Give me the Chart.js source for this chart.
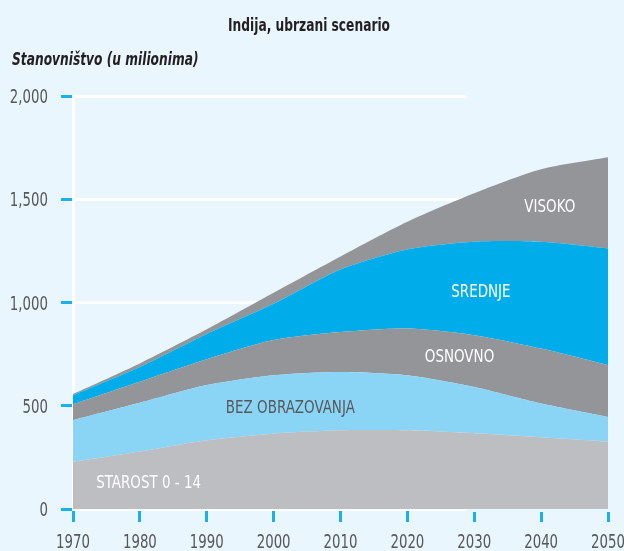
<!DOCTYPE html>
<html>
<head>
<meta charset="utf-8">
<script src="https://cdn.jsdelivr.net/npm/chart.js@4/dist/chart.umd.min.js"></script>
<style>
  html, body { margin: 0; padding: 0; background: #e9f6fd; }
  #wrap { width: 624px; height: 551px; }
</style>
</head>
<body>
<div id="wrap"><canvas id="chart" width="624" height="551"></canvas></div>
<script>
// podaci (milioni), ubrzani scenario
const years = ['1970', '1980', '1990', '2000', '2010', '2020', '2030', '2040', '2050'];
const starost = [228, 278, 333, 365, 381, 381, 367, 348, 327];
const bezObrazovanja = [202, 236, 267, 283, 283, 267, 224, 163, 119];
const osnovno = [77, 102, 125, 170, 193, 226, 251, 266, 251];
const srednje = [44, 72, 123, 176, 303, 383, 452, 517, 565];
const visoko = [6, 17, 22, 53, 63, 134, 235, 351, 441];
const yTicks = [0, 500, 1000, 1500, 2000];

const FONT = '"DejaVu Sans Condensed", "DejaVu Sans", sans-serif';
const BLUE_TICK = '#1ab0ec';
const BG = '#e9f6fd';

// natpisi u grafu (indeks godine, vrijednost)
const areaLabels = [
    { text: 'STAROST 0 - 14', x: 1.13, y: 124, color: '#ffffff' },
    { text: 'BEZ OBRAZOVANJA', x: 3.25, y: 484, color: '#58585a' },
    { text: 'OSNOVNO', x: 5.78, y: 735, color: '#ffffff' },
    { text: 'SREDNJE', x: 6.1, y: 1046, color: '#ffffff' },
    { text: 'VISOKO', x: 7.13, y: 1458, color: '#ffffff' },
];

// uski tekst (sužen vodoravno)
function narrowText(c, text, x, y, sx, align) {
    c.save();
    c.translate(x, y);
    c.scale(sx, 1);
    c.textAlign = align;
    c.fillText(text, 0, 0);
    c.restore();
}

const textPlugin = {
    id: 'texts',
    beforeDraw(chart) {
        const c = chart.ctx;
        c.save();
        c.fillStyle = BG;
        c.fillRect(0, 0, chart.width, chart.height);
        c.restore();
    },
    beforeDatasetsDraw(chart) {
        // bijele linije prestaju oko 2025.
        const c = chart.ctx;
        const { x, y } = chart.scales;
        const cut = x.getPixelForValue(5.88);
        c.save();
        c.fillStyle = BG;
        c.fillRect(cut, y.top - 3, chart.width - cut, 6);
        c.fillRect(cut, y.bottom - 2, x.right + 2 - cut, 5);
        c.restore();
    },
    afterDatasetsDraw(chart) {
        const c = chart.ctx;
        const { x, y } = chart.scales;
        c.save();
        c.textBaseline = 'middle';
        c.font = '17px ' + FONT;
        areaLabels.forEach(l => {
            c.fillStyle = l.color;
            narrowText(c, l.text, x.getPixelForValue(l.x), y.getPixelForValue(l.y), 0.88, 'center');
        });
        c.restore();
    },
    afterDraw(chart) {
        const c = chart.ctx;
        const { x, y } = chart.scales;
        c.save();
        c.textBaseline = 'alphabetic';
        c.fillStyle = '#58585a';
        c.font = '19px ' + FONT;
        y.ticks.forEach(t => {
            narrowText(c, t.value.toLocaleString('en-US'), 48, y.getPixelForValue(t.value) + 7, 0.78, 'right');
        });
        years.forEach((lab, i) => {
            narrowText(c, lab, x.getPixelForValue(i), 548, 0.78, 'center');
        });
        c.fillStyle = '#231f20';
        c.font = 'bold 17px ' + FONT;
        narrowText(c, 'Indija, ubrzani scenario', 309, 31, 0.8, 'center');
        c.font = 'italic bold 17px ' + FONT;
        narrowText(c, 'Stanovništvo (u milionima)', 12, 65, 0.8, 'left');
        c.restore();
    }
};

const area = (label, data, color, fill) => ({
    label, data,
    backgroundColor: color,
    borderWidth: 0,
    pointRadius: 0,
    tension: 0.25,
    fill,
});

new Chart(document.getElementById('chart'), {
    type: 'line',
    data: {
        labels: years,
        datasets: [
            area('Starost 0 - 14', starost, '#bcbec2', 'origin'),
            area('Bez obrazovanja', bezObrazovanja, '#8ad5f5', '-1'),
            area('Osnovno', osnovno, '#939598', '-1'),
            area('Srednje', srednje, '#00adea', '-1'),
            area('Visoko', visoko, '#939598', '-1'),
        ],
    },
    options: {
        responsive: false,
        animation: false,
        layout: { padding: { top: 96, right: 16, left: 0, bottom: 0 } },
        plugins: { legend: { display: false }, tooltip: { enabled: false } },
        scales: {
            x: {
                offset: false,
                afterFit: s => { s.height = 42; s.paddingLeft = 0; s.paddingRight = 0; },
                grid: {
                    drawOnChartArea: false,
                    tickColor: BLUE_TICK,
                    tickWidth: 3,
                    tickLength: 13,
                },
                border: { color: '#ffffff', width: 3 },
                ticks: { display: false, autoSkip: false, maxRotation: 0 },
            },
            y: {
                stacked: true,
                min: 0,
                max: 2000,
                afterFit: s => { s.width = 73; s.paddingTop = 0; s.paddingBottom = 0; },
                afterBuildTicks: s => { s.ticks = yTicks.map(v => ({ value: v })); },
                grid: {
                    color: '#ffffff',
                    lineWidth: 3,
                    tickColor: BLUE_TICK,
                    tickWidth: 3,
                    tickLength: 12,
                },
                border: { color: '#ffffff', width: 3 },
                ticks: { display: false },
            },
        },
    },
    plugins: [textPlugin],
});
</script>
</body>
</html>
